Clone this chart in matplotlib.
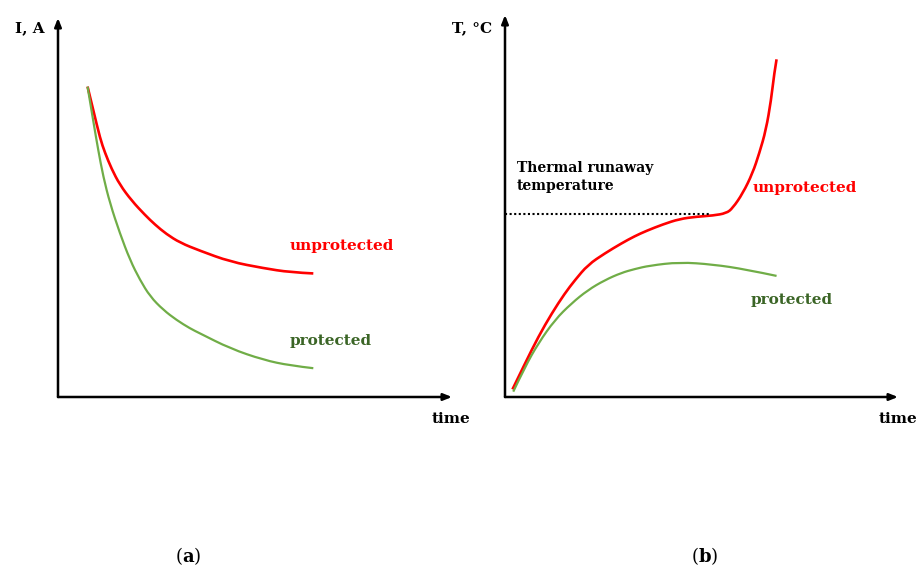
import matplotlib
matplotlib.use("Agg")
import matplotlib.pyplot as plt
from matplotlib.path import Path
from matplotlib.patches import PathPatch

plt.rcParams["font.family"] = "DejaVu Serif"
plt.rcParams["mathtext.fontset"] = "custom"
plt.rcParams["mathtext.rm"] = "DejaVu Serif"
plt.rcParams["mathtext.bf"] = "DejaVu Serif:bold"

RED = "#ff0000"
GREEN = "#70ad47"
DARK_GREEN = "#3b6526"

# (a) current vs time
cur_t_unprot = [0.75, 0.90, 1.07, 1.19, 1.36, 1.57, 1.87, 2.21, 2.46, 2.75, 3.10, 3.60, 4.37, 5.21, 5.89, 6.48]
cur_unprot = [8.19, 7.55, 6.82, 6.45, 6.02, 5.60, 5.18, 4.80, 4.55, 4.30, 4.07, 3.86, 3.57, 3.40, 3.29, 3.26]
cur_t_prot = [0.75, 0.90, 1.02, 1.15, 1.32, 1.57, 1.83, 2.08, 2.34, 2.67, 3.01, 3.35, 3.60, 4.37, 5.21, 5.89, 6.48]
cur_prot = [8.19, 7.25, 6.52, 5.81, 5.11, 4.32, 3.61, 3.09, 2.65, 2.30, 2.03, 1.81, 1.68, 1.28, 0.98, 0.83, 0.76]

# (b) temperature vs time
tmp_t_unprot = [0.19, 0.51, 0.85, 1.19, 1.52, 1.78, 2.11, 2.54, 2.96, 3.30, 3.60, 4.02, 4.44,
                4.87, 5.29, 5.63, 5.79, 6.05, 6.30, 6.47, 6.64, 6.77, 6.85, 6.91]
tmp_unprot = [0.20, 0.88, 1.58, 2.19, 2.71, 3.06, 3.46, 3.76, 4.02, 4.21, 4.35, 4.52, 4.66,
              4.72, 4.75, 4.81, 4.94, 5.33, 5.86, 6.38, 6.99, 7.77, 8.47, 8.84]
tmp_t_prot = [0.21, 0.51, 0.85, 1.27, 1.69, 2.11, 2.54, 2.96, 3.30, 3.68, 4.44, 5.29, 6.13, 6.91]
tmp_prot = [0.14, 0.79, 1.41, 2.02, 2.45, 2.80, 3.06, 3.25, 3.35, 3.44, 3.53, 3.47, 3.34, 3.17]
runaway_t = [0.0, 5.20]
runaway_T = [4.78, 4.78]

W, H = 917, 570
fig = plt.figure(figsize=(W / 100, H / 100), dpi=100)


def px_axes(left, top, right, bottom):
    return fig.add_axes([left / W, 1 - bottom / H, (right - left) / W, (bottom - top) / H])


def ftext(x, y, s, **kw):
    fig.text(x / W, 1 - y / H, s, **kw)


def draw_arrows(ax):
    for end in [(1, 0), (0, 1)]:
        ax.annotate("", xy=end, xytext=(0, 0), xycoords="axes fraction",
                    arrowprops=dict(arrowstyle="-|>,head_length=0.5,head_width=0.2",
                                    color="black", lw=1.8, shrinkA=0, shrinkB=0))
    ax.set_xlim(0, 10)
    ax.set_ylim(0, 10)
    ax.axis("off")


def smooth_curve(ax, xs, ys, color, lw):
    # quadratic bezier through the midpoints, the read points act as control points
    pts = list(zip(xs, ys))
    verts = [pts[0]]
    codes = [Path.MOVETO]
    for i in range(1, len(pts) - 1):
        if i < len(pts) - 2:
            end = ((pts[i][0] + pts[i + 1][0]) / 2, (pts[i][1] + pts[i + 1][1]) / 2)
        else:
            end = pts[-1]
        verts += [pts[i], end]
        codes += [Path.CURVE3, Path.CURVE3]
    ax.add_patch(PathPatch(Path(verts, codes), facecolor="none", edgecolor=color,
                           lw=lw, capstyle="butt", joinstyle="round"))


ax1 = px_axes(58, 18, 452, 397)
draw_arrows(ax1)
smooth_curve(ax1, cur_t_unprot, cur_unprot, RED, 1.9)
smooth_curve(ax1, cur_t_prot, cur_prot, GREEN, 1.6)
ax1.text(5.89, 3.98, "unprotected", color=RED, fontsize=11, fontweight="bold", va="center")
ax1.text(5.89, 1.48, "protected", color=DARK_GREEN, fontsize=11, fontweight="bold", va="center")

ax2 = px_axes(505, 15, 898, 397)
draw_arrows(ax2)
ax2.plot(runaway_t, runaway_T, color="black", lw=1.5, ls=(0, (1, 1.2)))
smooth_curve(ax2, tmp_t_unprot, tmp_unprot, RED, 1.9)
smooth_curve(ax2, tmp_t_prot, tmp_prot, GREEN, 1.6)
ax2.text(6.29, 5.47, "unprotected", color=RED, fontsize=11, fontweight="bold", va="center")
ax2.text(6.24, 2.54, "protected", color=DARK_GREEN, fontsize=11, fontweight="bold", va="center")
ax2.text(0.30, 5.76, "Thermal runaway\ntemperature", color="black", fontsize=10,
         fontweight="bold", va="center", linespacing=1.3)

ftext(45, 28, "I, A", fontsize=11, fontweight="bold", ha="right", va="center")
ftext(492, 28, "T, °C", fontsize=11, fontweight="bold", ha="right", va="center")
ftext(432, 419, "time", fontsize=11, fontweight="bold", va="center")
ftext(879, 419, "time", fontsize=11, fontweight="bold", va="center")
ftext(188, 556, r"($\mathbf{a}$)", fontsize=13, ha="center", va="center")
ftext(705, 556, r"($\mathbf{b}$)", fontsize=13, ha="center", va="center")

fig.savefig("out.png", dpi=100)
